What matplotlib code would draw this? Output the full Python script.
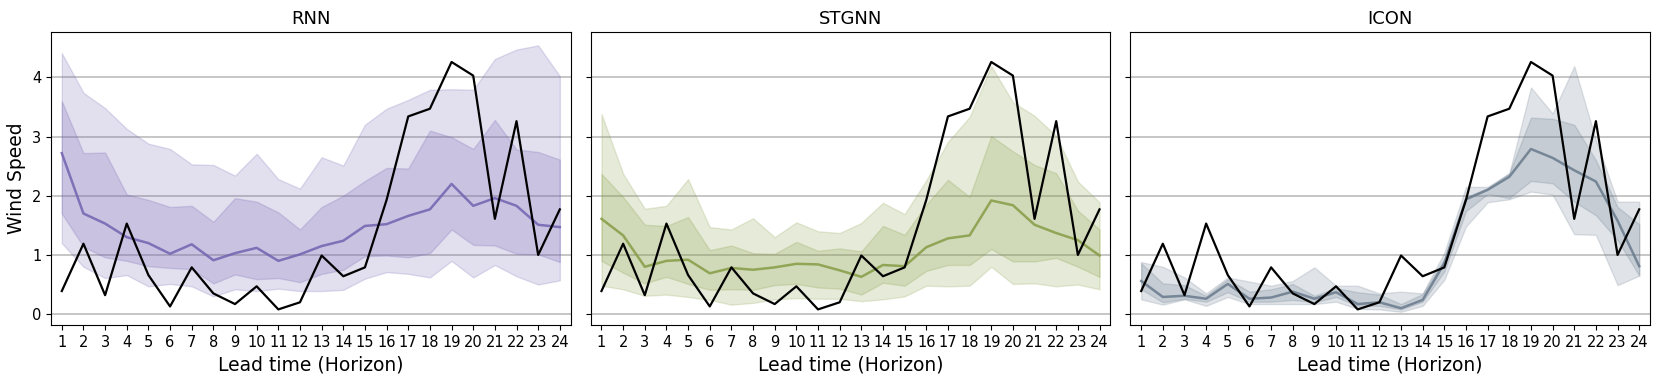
import numpy as np
import matplotlib
matplotlib.use("Agg")
import matplotlib.pyplot as plt

horizon = np.arange(1, 25)

truth = [0.39, 1.19, 0.32, 1.53, 0.66, 0.13, 0.79, 0.35, 0.17, 0.47, 0.08, 0.20,
         0.99, 0.64, 0.79, 1.93, 3.34, 3.47, 4.26, 4.03, 1.61, 3.26, 1.00, 1.77]

# RNN quantiles
rnn_med = [2.72, 1.70, 1.53, 1.30, 1.20, 1.02, 1.18, 0.91, 1.03, 1.12, 0.90, 1.01,
           1.15, 1.24, 1.49, 1.52, 1.66, 1.77, 2.20, 1.83, 1.96, 1.83, 1.51, 1.47]
rnn_q75 = [3.60, 2.72, 2.73, 2.02, 1.93, 1.81, 1.83, 1.56, 1.96, 1.90, 1.72, 1.43,
           1.81, 2.00, 2.25, 2.47, 2.46, 3.10, 2.99, 2.79, 3.28, 2.78, 2.74, 2.61]
rnn_q25 = [1.70, 1.14, 0.96, 0.90, 0.81, 0.78, 0.76, 0.52, 0.67, 0.59, 0.61, 0.54,
           0.68, 0.75, 0.98, 0.99, 0.96, 1.03, 1.43, 1.17, 1.16, 1.02, 1.01, 0.88]
rnn_q95 = [4.41, 3.74, 3.48, 3.13, 2.88, 2.79, 2.53, 2.52, 2.34, 2.71, 2.28, 2.12,
           2.65, 2.51, 3.20, 3.47, 3.62, 3.79, 3.80, 3.79, 4.31, 4.47, 4.54, 4.02]
rnn_q05 = [1.20, 0.80, 0.61, 0.66, 0.47, 0.51, 0.47, 0.30, 0.42, 0.39, 0.43, 0.39,
           0.39, 0.41, 0.60, 0.71, 0.68, 0.62, 0.90, 0.62, 0.83, 0.64, 0.50, 0.57]

# STGNN quantiles
stg_med = [1.61, 1.33, 0.80, 0.90, 0.92, 0.69, 0.78, 0.75, 0.79, 0.85, 0.84, 0.74,
           0.63, 0.83, 0.81, 1.13, 1.28, 1.33, 1.92, 1.84, 1.51, 1.37, 1.25, 0.99]
stg_q75 = [2.37, 1.98, 1.51, 1.49, 1.64, 1.08, 1.16, 1.03, 1.02, 1.22, 1.07, 1.11,
           1.06, 1.49, 1.34, 1.85, 2.27, 1.98, 3.01, 2.75, 2.52, 2.38, 1.75, 1.43]
stg_q25 = [0.90, 0.70, 0.52, 0.63, 0.51, 0.41, 0.42, 0.41, 0.49, 0.51, 0.45, 0.43,
           0.33, 0.53, 0.48, 0.73, 0.83, 0.83, 1.10, 0.89, 0.89, 0.95, 0.80, 0.63]
stg_q95 = [3.38, 2.37, 1.78, 1.83, 2.28, 1.47, 1.43, 1.62, 1.30, 1.55, 1.40, 1.37,
           1.54, 1.88, 1.69, 2.26, 2.91, 3.33, 4.19, 3.58, 3.35, 3.01, 2.24, 1.89]
stg_q05 = [0.48, 0.42, 0.31, 0.33, 0.29, 0.24, 0.16, 0.19, 0.25, 0.27, 0.26, 0.26,
           0.22, 0.25, 0.30, 0.48, 0.47, 0.48, 0.80, 0.51, 0.52, 0.47, 0.50, 0.42]

# ICON quantiles
icon_med = [0.56, 0.29, 0.31, 0.26, 0.51, 0.26, 0.28, 0.38, 0.26, 0.37, 0.17, 0.20,
            0.10, 0.24, 0.86, 1.94, 2.10, 2.32, 2.79, 2.64, 2.43, 2.24, 1.58, 0.81]
icon_q75 = [0.86, 0.52, 0.49, 0.31, 0.59, 0.38, 0.42, 0.51, 0.31, 0.44, 0.37, 0.33,
            0.17, 0.34, 0.94, 1.98, 2.13, 2.38, 3.32, 3.30, 3.20, 2.60, 1.81, 1.52]
icon_q25 = [0.42, 0.20, 0.26, 0.21, 0.37, 0.21, 0.21, 0.24, 0.20, 0.29, 0.14, 0.14,
            0.08, 0.21, 0.72, 1.74, 2.03, 1.96, 2.25, 2.21, 1.90, 1.67, 1.25, 0.65]
icon_q95 = [0.88, 0.80, 0.62, 0.35, 0.62, 0.55, 0.48, 0.56, 0.79, 0.48, 0.48, 0.35,
            0.38, 0.35, 1.04, 2.15, 2.15, 2.38, 3.83, 3.39, 4.19, 2.94, 1.90, 1.90]
icon_q05 = [0.25, 0.16, 0.25, 0.14, 0.29, 0.17, 0.17, 0.17, 0.17, 0.21, 0.09, 0.08,
            0.04, 0.14, 0.58, 1.48, 1.89, 1.94, 2.07, 2.02, 1.35, 1.34, 0.49, 0.65]

models = ["RNN", "STGNN", "ICON"]
colors = ["#7262b0", "#869c45", "#687a8c"]
bands = [
    (rnn_q05, rnn_q25, rnn_med, rnn_q75, rnn_q95),
    (stg_q05, stg_q25, stg_med, stg_q75, stg_q95),
    (icon_q05, icon_q25, icon_med, icon_q75, icon_q95),
]

fig, axes = plt.subplots(1, 3, figsize=(16.6, 3.82), dpi=100, sharey=True)
fig.subplots_adjust(left=0.0307, right=0.994, top=0.916, bottom=0.149, wspace=0.0385)

for ax, name, c, (q05, q25, med, q75, q95) in zip(axes, models, colors, bands):
    ax.fill_between(horizon, q05, q95, color=c, alpha=0.2)
    ax.fill_between(horizon, q25, q75, color=c, alpha=0.22)
    ax.plot(horizon, med, color=c, lw=1.8, alpha=0.85)
    ax.plot(horizon, truth, color="black", lw=1.6)
    ax.set_title(name, fontsize=13)
    ax.set_xticks(horizon)
    ax.set_xlim(0.5, 24.5)
    ax.set_yticks([0, 1, 2, 3, 4])
    ax.grid(axis="y", color="#bcbcbc", lw=1.2)
    ax.set_axisbelow(True)
    ax.tick_params(labelsize=10.5)
    ax.set_xlabel("Lead time (Horizon)", fontsize=13.5)

axes[0].set_ylabel("Wind Speed", fontsize=13.5)

plt.savefig("out.png", dpi=100)
